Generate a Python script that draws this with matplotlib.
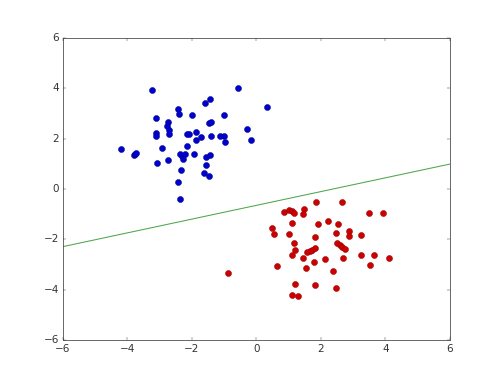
import matplotlib
matplotlib.use("Agg")
import matplotlib.pyplot as plt

blue_x = [-3.22, -0.58, 0.34, -2.42, -2.38, -1.58, -1.43, -1.99, -0.99, -3.10,
          -2.72, -2.77, -2.70, -2.70, -3.10, -3.10, -1.46, -1.41, -0.28, -0.16,
          -2.14, -2.07, -1.86, -1.86, -1.72, -1.39, -1.13, -0.99, -0.97, -4.19,
          -3.79, -3.74, -3.71, -2.93, -2.15, -3.08, -2.74, -2.37, -2.30, -2.27,
          -2.22, -1.94, -1.56, -1.43, -1.55, -2.32, -1.63, -1.46, -2.42, -2.35]
blue_y = [3.92, 4.01, 3.26, 3.19, 2.98, 3.42, 3.57, 2.92, 2.92, 2.80,
          2.65, 2.49, 2.35, 2.18, 2.21, 2.12, 2.62, 2.65, 2.38, 1.94,
          2.18, 2.18, 2.26, 1.96, 2.06, 2.09, 2.09, 2.10, 1.85, 1.58,
          1.33, 1.40, 1.43, 1.62, 1.69, 1.03, 1.16, 1.37, 1.29, 1.19,
          1.37, 1.37, 1.27, 1.35, 0.94, 0.74, 0.62, 0.52, 0.27, -0.40]

red_x = [1.84, 2.67, 0.86, 1.01, 1.12, 1.16, 1.49, 1.46, 3.50, 3.91,
         1.10, 1.92, 2.22, 2.52, 0.48, 0.54, 1.02, 2.46, 2.86, 2.86,
         3.25, 1.81, 1.18, 2.51, 2.59, 2.67, 2.75, 1.21, 1.81, 1.74,
         1.67, 1.57, 1.12, 1.46, 2.13, 2.68, 3.25, 3.64, 4.10, 1.78,
         1.55, 0.64, 3.51, 2.39, -0.88, 1.21, 1.82, 2.47, 1.12, 1.29]
red_y = [-0.50, -0.50, -0.92, -0.83, -0.87, -0.94, -0.78, -1.01, -0.96, -0.96,
         -1.35, -1.37, -1.28, -1.37, -1.55, -1.77, -1.77, -1.76, -1.68, -1.86,
         -1.84, -1.89, -2.14, -2.16, -2.22, -2.31, -2.38, -2.41, -2.34, -2.41,
         -2.45, -2.51, -2.61, -2.75, -2.79, -2.75, -2.62, -2.61, -2.73, -2.91,
         -3.14, -3.04, -3.02, -3.24, -3.34, -3.75, -3.79, -3.92, -4.21, -4.26]

line_x = [-6, 6]
line_y = [-2.29, 0.99]

plt.style.use("classic")
fig = plt.figure(figsize=(8, 6.048), dpi=62.5)
ax = fig.add_subplot(111)
ax.plot(blue_x, blue_y, "o", color="#0000cc", markeredgecolor="#00008a",
        markeredgewidth=0.5, markersize=7)
ax.plot(red_x, red_y, "o", color="#cc0000", markeredgecolor="#8a0000",
        markeredgewidth=0.5, markersize=7)
ax.plot(line_x, line_y, "-", color="#4ca64c", linewidth=1.2)
ax.set_xlim(-6, 6)
ax.set_ylim(-6, 6)
ax.set_xticks([-6, -4, -2, 0, 2, 4, 6])
ax.set_yticks([-6, -4, -2, 0, 2, 4, 6])
for sp in ax.spines.values():
    sp.set_color("#555555")
ax.tick_params(colors="#333333", labelsize=12)
fig.savefig("out.png", dpi=62.5)
